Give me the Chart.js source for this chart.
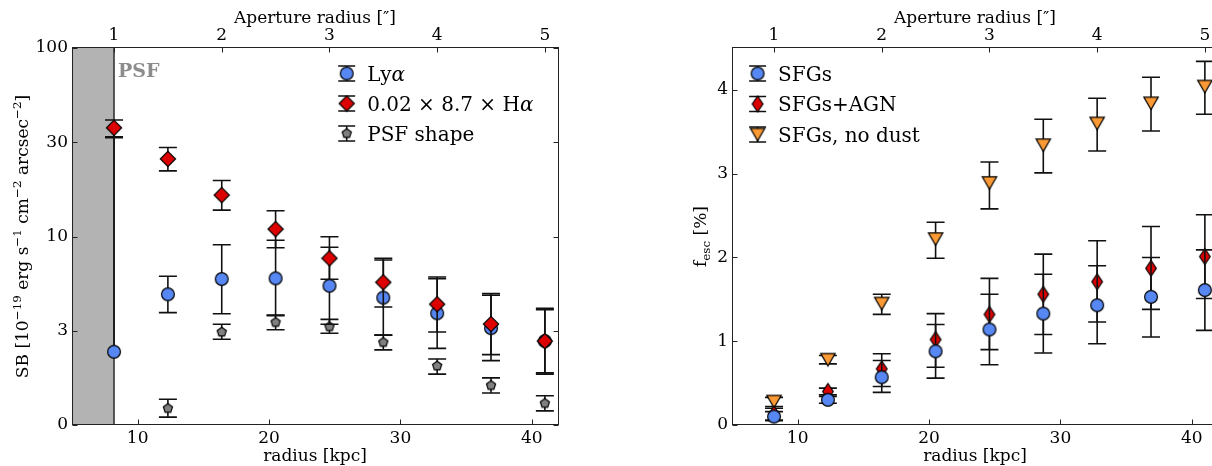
<!DOCTYPE html>
<html>
<head>
<meta charset="utf-8">
<script src="https://cdn.jsdelivr.net/npm/chart.js@4.4.0/dist/chart.umd.min.js"></script>
<style>
  html, body { margin: 0; padding: 0; background: #fff; overflow: hidden; width: 1212px; height: 466px; }
  canvas { position: absolute; top: 0; }
  #sb { left: 0; }
  #fesc { left: 660px; }
</style>
</head>
<body>
<canvas id="sb" width="600" height="466"></canvas>
<canvas id="fesc" width="600" height="466"></canvas>
<script>
const FONT = "'DejaVu Serif', serif";
const KPC_PER_ARCSEC = 8.2;

// radii of the apertures (kpc), one per 0.5"
const radius = [8.2, 12.3, 16.4, 20.5, 24.6, 28.7, 32.8, 36.9, 41.0];
const radiusPsf = radius.slice(1);
const kpcTicks = [10, 20, 30, 40];
const arcsecTicks = [1, 2, 3, 4, 5];

// left panel: surface brightness, 1e-19 erg/s/cm2/arcsec2
const sbTicks = [0, 3, 10, 30, 100];
const lya   = [2.33, 4.78, 5.81, 5.86, 5.33, 4.58, 3.75, 3.10, 2.67];
const lyaLo = [null, 3.78, 3.73, 3.67, 3.26, 2.86, 2.44, 2.05, 1.62];
const lyaHi = [31.8, 6.02, 9.00, 9.53, 8.71, 7.41, 5.96, 4.82, 4.00];
const ha    = [36.1, 24.7, 16.2, 10.9, 7.57, 5.57, 4.21, 3.27, 2.67];
const haLo  = [32.2, 21.5, 13.6, 8.66, 5.79, 4.06, 2.96, 2.24, 1.66];
const haHi  = [39.9, 28.2, 19.2, 13.5, 9.97, 7.57, 5.83, 4.72, 3.92];
const psf   = [0.53, 2.96, 3.34, 3.16, 2.63, 1.88, 1.26, 0.69];
const psfLo = [0.25, 2.73, 3.04, 2.92, 2.39, 1.62, 1.02, 0.45];
const psfHi = [0.82, 3.26, 3.64, 3.47, 2.86, 2.10, 1.50, 0.93];

// right panel: escape fraction, %
const fescTicks = [0, 1, 2, 3, 4];
const sfg     = [0.10, 0.30, 0.57, 0.88, 1.14, 1.33, 1.43, 1.53, 1.61];
const sfgLo   = [0.05, 0.26, 0.39, 0.56, 0.72, 0.86, 0.97, 1.05, 1.13];
const sfgHi   = [0.16, 0.36, 0.77, 1.20, 1.56, 1.80, 1.90, 2.00, 2.09];
const agn     = [0.13, 0.40, 0.67, 1.02, 1.32, 1.56, 1.71, 1.87, 2.01];
const agnLo   = [0.06, 0.34, 0.46, 0.69, 0.90, 1.08, 1.23, 1.38, 1.51];
const agnHi   = [0.20, 0.44, 0.85, 1.33, 1.75, 2.04, 2.20, 2.37, 2.51];
const noDust   = [0.28, 0.78, 1.45, 2.22, 2.89, 3.34, 3.60, 3.84, 4.04];
const noDustLo = [0.22, 0.73, 1.32, 1.99, 2.58, 3.01, 3.27, 3.51, 3.71];
const noDustHi = [0.33, 0.83, 1.56, 2.42, 3.14, 3.65, 3.90, 4.15, 4.34];

// SB axis: ticks equally spaced, log between them (linear below 3)
function sbPos(v) {
    if (v == null) return null;
    if (v <= sbTicks[1]) return v / sbTicks[1];
    for (let i = 1; i < sbTicks.length - 1; i++) {
        if (v <= sbTicks[i + 1] || i === sbTicks.length - 2) {
            return i + Math.log(v / sbTicks[i]) / Math.log(sbTicks[i + 1] / sbTicks[i]);
        }
    }
}
const same = v => v;

function marker(w, h, fill, path) {
    const c = document.createElement('canvas');
    c.width = w; c.height = h;
    const g = c.getContext('2d');
    g.translate(w / 2, h / 2);
    g.beginPath(); path(g); g.closePath();
    g.fillStyle = fill; g.fill();
    g.lineWidth = 1.2; g.strokeStyle = '#000'; g.stroke();
    return c;
}
const circle = r => g => g.arc(0, 0, r, 0, 2 * Math.PI);
const diamond = (hw, hh) => g => { g.moveTo(0, -hh); g.lineTo(hw, 0); g.lineTo(0, hh); g.lineTo(-hw, 0); };
const triDown = (hw, hh) => g => { g.moveTo(-hw, -hh); g.lineTo(hw, -hh); g.lineTo(0, hh); };
const pentagon = r => g => {
    for (let k = 0; k < 5; k++) {
        const a = -Math.PI / 2 + k * 2 * Math.PI / 5;
        g.lineTo(r * Math.cos(a), r * Math.sin(a));
    }
};

const BLUE = '#5787f2', RED = '#dd0000', ORANGE = '#fb9a35', GREY = '#808080';
const mCircle = marker(16, 16, BLUE, circle(6.4));
const mDiamond = marker(18, 18, RED, diamond(7.6, 7.6));
const mPentagon = marker(12, 12, GREY, pentagon(4.8));
const mThin = marker(14, 20, RED, diamond(5.3, 8));
const mTri = marker(18, 16, ORANGE, triDown(7.2, 6.2));

function series(label, xs, ys, lo, hi, style, order, map) {
    return {
        label,
        data: xs.map((x, i) => ({ x, y: map(ys[i]) })),
        errLo: lo.map(map),
        errHi: hi.map(map),
        pointStyle: style,
        pointRadius: 8,
        order
    };
}

// draws text made of parts, some raised/lowered/italic, centred on x=0 at baseline 0
function rich(ctx, parts, size) {
    const fontOf = p => `${p.italic ? 'italic ' : ''}${p.sup || p.sub ? size * 0.7 : size}px ${FONT}`;
    let total = 0;
    parts.forEach(p => { ctx.font = fontOf(p); total += ctx.measureText(p.t).width; });
    let x = -total / 2;
    parts.forEach(p => {
        ctx.font = fontOf(p);
        const dy = p.sup ? -size * 0.4 : p.sub ? size * 0.25 : 0;
        ctx.fillText(p.t, x, dy);
        x += ctx.measureText(p.t).width;
    });
    return total;
}

const decor = {
    id: 'decor',
    beforeDatasetsDraw(chart, args, opts) {
        if (!opts.psfEdge) return;
        const { ctx, chartArea: a, scales } = chart;
        const xe = scales.x.getPixelForValue(opts.psfEdge);
        ctx.save();
        ctx.fillStyle = '#b3b3b3';
        ctx.fillRect(a.left, a.top, xe - a.left, a.bottom - a.top);
        ctx.strokeStyle = '#000'; ctx.lineWidth = 1.2;
        ctx.beginPath(); ctx.moveTo(xe, a.top); ctx.lineTo(xe, a.bottom); ctx.stroke();
        ctx.fillStyle = '#8c8c8c';
        ctx.font = `bold 19px ${FONT}`;
        ctx.textAlign = 'left'; ctx.textBaseline = 'alphabetic';
        ctx.fillText('PSF', xe + 4, a.top + 29);
        ctx.restore();
    },
    beforeDatasetDraw(chart, args) {
        const ds = chart.data.datasets[args.index];
        const { ctx, chartArea: a } = chart;
        const y = chart.scales.y;
        ctx.save();
        ctx.beginPath(); ctx.rect(a.left, a.top, a.right - a.left, a.bottom - a.top); ctx.clip();
        ctx.strokeStyle = '#111'; ctx.lineWidth = 1.6;
        args.meta.data.forEach((pt, i) => {
            const lo = ds.errLo[i], hi = ds.errHi[i];
            const yh = hi == null ? pt.y : y.getPixelForValue(hi);
            const yl = lo == null ? pt.y : y.getPixelForValue(lo);
            ctx.beginPath();
            ctx.moveTo(pt.x, yh); ctx.lineTo(pt.x, yl);
            if (hi != null) { ctx.moveTo(pt.x - 9, yh); ctx.lineTo(pt.x + 9, yh); }
            if (lo != null) { ctx.moveTo(pt.x - 9, yl); ctx.lineTo(pt.x + 9, yl); }
            ctx.stroke();
        });
        ctx.restore();
    },
    afterDraw(chart, args, opts) {
        const { ctx, chartArea: a, scales } = chart;
        ctx.save();
        // frame and inward ticks
        ctx.strokeStyle = '#222'; ctx.lineWidth = 1;
        const L = Math.round(a.left) + 0.5, R = Math.round(a.right) + 0.5;
        const T = Math.round(a.top) - 0.5, B = Math.round(a.bottom) - 0.5;
        ctx.strokeRect(L, T, R - L, B - T);
        ctx.beginPath();
        scales.x.ticks.forEach(t => { const px = Math.round(scales.x.getPixelForValue(t.value)) + 0.5; ctx.moveTo(px, B); ctx.lineTo(px, B - 5); });
        scales.x2.ticks.forEach(t => { const px = Math.round(scales.x2.getPixelForValue(t.value)) + 0.5; ctx.moveTo(px, T); ctx.lineTo(px, T + 5); });
        scales.y.ticks.forEach(t => {
            const py = Math.round(scales.y.getPixelForValue(t.value)) + 0.5;
            ctx.moveTo(L, py); ctx.lineTo(L + 5, py);
            ctx.moveTo(R, py); ctx.lineTo(R - 5, py);
        });
        ctx.stroke();

        // axis titles
        ctx.fillStyle = '#000';
        ctx.textAlign = 'left'; ctx.textBaseline = 'alphabetic';
        const cx = (a.left + a.right) / 2, cy = (a.top + a.bottom) / 2;
        ctx.save(); ctx.translate(cx, 22.5); rich(ctx, [{ t: 'Aperture radius [″]' }], 17); ctx.restore();
        ctx.save(); ctx.translate(cx, 461); rich(ctx, [{ t: 'radius [kpc]' }], 17); ctx.restore();
        ctx.save(); ctx.translate(opts.yTitleX, cy); ctx.rotate(-Math.PI / 2); rich(ctx, opts.yTitle, 17); ctx.restore();

        // legend
        opts.legend.forEach((item, k) => {
            const mx = a.left + opts.legendX, my = a.top + 25.5 + k * opts.legendStep;
            ctx.strokeStyle = '#111'; ctx.lineWidth = 1.6;
            ctx.beginPath();
            ctx.moveTo(mx, my - 7.5); ctx.lineTo(mx, my + 7.5);
            ctx.moveTo(mx - 8.5, my - 7.5); ctx.lineTo(mx + 8.5, my - 7.5);
            ctx.moveTo(mx - 8.5, my + 7.5); ctx.lineTo(mx + 8.5, my + 7.5);
            ctx.stroke();
            ctx.drawImage(item.marker, mx - item.marker.width / 2, my - item.marker.height / 2);
            ctx.save();
            ctx.font = `20px ${FONT}`;
            let w = 0;
            item.text.forEach(p => { ctx.font = `${p.italic ? 'italic ' : ''}20px ${FONT}`; w += ctx.measureText(p.t).width; });
            ctx.translate(mx + 20.5 + w / 2, my + 7);
            rich(ctx, item.text, 20);
            ctx.restore();
        });
        ctx.restore();
    }
};

function makeChart(id, datasets, yMin, yMax, yTicks, yLabel, plugOpts) {
    const tickFont = { family: FONT, size: 17 };
    return new Chart(document.getElementById(id), {
        type: 'scatter',
        data: { datasets },
        options: {
            responsive: false,
            animation: false,
            events: [],
            layout: { padding: { right: 42 } },
            plugins: { legend: { display: false }, tooltip: { enabled: false }, decor: plugOpts },
            scales: {
                x: {
                    type: 'linear', position: 'bottom', min: 5, max: 42,
                    afterBuildTicks: s => { s.ticks = kpcTicks.map(v => ({ value: v })); },
                    afterFit: s => { s.height = 41; },
                    grid: { display: false, drawTicks: false },
                    border: { display: false },
                    ticks: { font: tickFont, color: '#000', padding: 3, maxRotation: 0 }
                },
                x2: {
                    type: 'linear', position: 'top', min: 5 / KPC_PER_ARCSEC, max: 42 / KPC_PER_ARCSEC,
                    afterBuildTicks: s => { s.ticks = arcsecTicks.map(v => ({ value: v })); },
                    afterFit: s => { s.height = 48; },
                    grid: { display: false, drawTicks: false },
                    border: { display: false },
                    ticks: { font: tickFont, color: '#000', padding: 2, maxRotation: 0 }
                },
                y: {
                    type: 'linear', position: 'left', min: yMin, max: yMax,
                    afterBuildTicks: s => { s.ticks = yTicks.map((v, i) => ({ value: i })); },
                    afterFit: s => { s.width = 72; },
                    grid: { display: false, drawTicks: false },
                    border: { display: false },
                    ticks: { font: tickFont, color: '#000', padding: 4, callback: (v, i) => yLabel(i) }
                }
            }
        },
        plugins: [decor]
    });
}

makeChart('sb', [
    series('Lyα', radius, lya, lyaLo, lyaHi, mCircle, 1, sbPos),
    series('0.02 × 8.7 × Hα', radius, ha, haLo, haHi, mDiamond, 0, sbPos),
    series('PSF shape', radiusPsf, psf, psfLo, psfHi, mPentagon, 2, sbPos)
], 0, sbTicks.length - 1, sbTicks, i => String(sbTicks[i]), {
    psfEdge: KPC_PER_ARCSEC,
    yTitleX: 28,
    yTitle: [
        { t: 'SB [10' }, { t: '−19', sup: true }, { t: ' erg s' }, { t: '−1', sup: true },
        { t: ' cm' }, { t: '−2', sup: true }, { t: ' arcsec' }, { t: '−2', sup: true }, { t: ']' }
    ],
    legendX: 274.7, legendStep: 30,
    legend: [
        { marker: mCircle, text: [{ t: 'Ly' }, { t: 'α', italic: true }] },
        { marker: mDiamond, text: [{ t: '0.02 × 8.7 × H' }, { t: 'α', italic: true }] },
        { marker: mPentagon, text: [{ t: 'PSF shape' }] }
    ]
});

makeChart('fesc', [
    series('SFGs', radius, sfg, sfgLo, sfgHi, mCircle, 0, same),
    series('SFGs+AGN', radius, agn, agnLo, agnHi, mThin, 1, same),
    series('SFGs, no dust', radius, noDust, noDustLo, noDustHi, mTri, 2, same)
], 0, 4.5, fescTicks, i => String(fescTicks[i]), {
    yTitleX: 46,
    yTitle: [{ t: 'f' }, { t: 'esc', sub: true }, { t: ' [%]' }],
    legendX: 25.6, legendStep: 30.5,
    legend: [
        { marker: mCircle, text: [{ t: 'SFGs' }] },
        { marker: mThin, text: [{ t: 'SFGs+AGN' }] },
        { marker: mTri, text: [{ t: 'SFGs, no dust' }] }
    ]
});
</script>
</body>
</html>
